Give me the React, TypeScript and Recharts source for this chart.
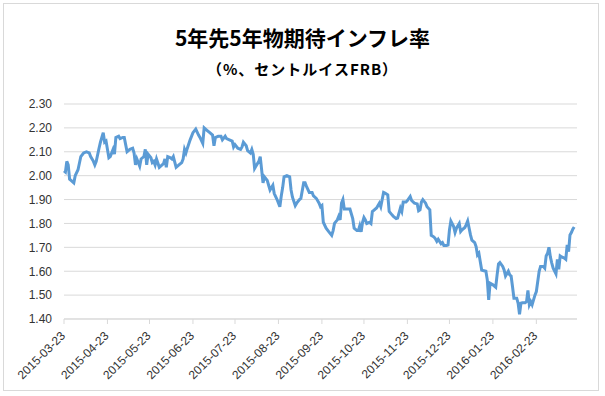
import React from 'react';
import { LineChart, Line, XAxis, YAxis, CartesianGrid } from 'recharts';

// Day offsets from 2015-03-23
const dayOffsets: number[] = [
  0, 1, 2, 3, 4, 5, 7, 8, 10, 12, 14, 16, 18, 19, 21, 22, 23, 25, 26, 28, 29, 30, 32, 33, 35, 36, 37, 39, 40, 42, 43, 44, 45, 47, 49, 50, 51, 52, 54, 55, 57, 58, 59, 60, 62, 63, 64, 65, 66, 68, 70, 71, 72, 73, 74, 76, 77, 78, 80, 82, 84, 85, 86, 87, 88, 90, 92, 94,
  96, 97, 99, 100, 102, 104, 106, 107, 108, 110, 112, 113, 115, 116, 118, 120, 121, 122, 124, 126, 127, 128, 130, 131, 133, 134, 135, 136, 137, 139, 140, 142, 143, 145, 146, 147, 149, 150, 152, 154, 155, 156, 157, 159, 161, 162, 163, 165, 166, 168, 169, 171, 172, 173, 175, 177, 178, 180, 182, 183, 184, 185, 187, 189, 191, 192, 193, 195, 196, 197, 198, 199, 200, 201, 203, 204, 206, 207, 209, 210, 211, 212, 213, 214, 215, 216, 218, 219, 220, 221, 223, 225,
  226, 228, 229, 231, 232, 234, 235, 237, 238, 240, 241, 242, 244, 245, 247, 248, 250, 252, 253, 254, 255, 256, 258, 259, 261, 262, 264, 265, 266, 267, 269, 270, 271, 273, 274, 275, 276, 278, 279, 280, 282, 283, 284, 286, 287, 288, 290, 291, 293, 294, 295, 296, 297, 298, 299, 301, 302, 303, 304, 306, 308, 309, 310, 311, 313, 314, 315, 317, 318, 319, 320, 321, 323, 324, 325, 326, 327, 329, 330, 331, 332, 333, 334, 335, 336, 337, 339, 340, 342, 343, 344, 345, 346, 347, 348, 349, 351, 352, 353, 354, 355, 357, 358, 359, 360, 361, 362, 363, 364,
];

const inflationValues: number[] = [
  2.02, 2.015, 2.06, 2.045, 1.985, 1.98, 1.97, 2.0, 2.025, 2.08, 2.095, 2.1, 2.095, 2.08, 2.06, 2.045, 2.06, 2.115, 2.14, 2.18, 2.14, 2.145, 2.075, 2.08, 2.11, 2.09, 2.16, 2.165, 2.155, 2.16, 2.16, 2.13, 2.1, 2.11, 2.115, 2.095, 2.045, 2.07, 2.04, 2.07, 2.08, 2.11, 2.045, 2.09, 2.075, 2.055, 2.06, 2.045, 2.07, 2.035, 2.045, 2.05, 2.07, 2.035, 2.08, 2.075, 2.07, 2.08, 2.035, 2.045, 2.055, 2.07, 2.11, 2.095, 2.115, 2.15, 2.18, 2.195,
  2.17, 2.16, 2.135, 2.2, 2.19, 2.18, 2.17, 2.125, 2.16, 2.165, 2.165, 2.15, 2.165, 2.155, 2.15, 2.145, 2.12, 2.13, 2.115, 2.11, 2.12, 2.14, 2.125, 2.105, 2.095, 2.11, 2.09, 2.03, 2.04, 2.06, 2.08, 1.97, 1.995, 1.98, 1.96, 1.94, 1.96, 1.925, 1.9, 1.87, 1.915, 1.95, 1.995, 2.0, 1.995, 1.94, 1.91, 1.875, 1.885, 1.9, 1.905, 1.97, 1.97, 1.955, 1.93, 1.93, 1.915, 1.905, 1.885, 1.87, 1.875, 1.805, 1.78, 1.765, 1.75, 1.77, 1.8, 1.815, 1.83, 1.815, 1.885, 1.9, 1.86, 1.86, 1.86, 1.86, 1.82, 1.78, 1.77, 1.77, 1.79, 1.765, 1.805, 1.825, 1.815, 1.8, 1.805, 1.8, 1.85, 1.855, 1.865, 1.885,
  1.87, 1.93, 1.927, 1.92, 1.85, 1.836, 1.83, 1.82, 1.822, 1.864, 1.85, 1.89, 1.89, 1.896, 1.913, 1.896, 1.885, 1.882, 1.853, 1.857, 1.89, 1.9, 1.885, 1.87, 1.857, 1.75, 1.743, 1.736, 1.725, 1.734, 1.715, 1.72, 1.708, 1.708, 1.71, 1.773, 1.81, 1.787, 1.762, 1.78, 1.8, 1.766, 1.773, 1.783, 1.795, 1.81, 1.752, 1.73, 1.72, 1.703, 1.668, 1.675, 1.64, 1.605, 1.603, 1.6, 1.564, 1.48, 1.55, 1.543, 1.533, 1.585, 1.63, 1.636, 1.62, 1.605, 1.58, 1.6, 1.585, 1.58, 1.535, 1.487, 1.487, 1.466, 1.42, 1.466, 1.468, 1.468, 1.473, 1.52, 1.46, 1.473, 1.46, 1.48, 1.5, 1.515, 1.6, 1.62, 1.62, 1.613, 1.664, 1.675, 1.7, 1.66, 1.634, 1.613, 1.589, 1.65, 1.608, 1.664, 1.66, 1.655, 1.65, 1.71, 1.682, 1.752, 1.762, 1.776, 1.785,
];

const xTickDays: number[] = [0, 31, 61, 92, 122, 153, 184, 214, 245, 275, 306, 337];
const xTickLabels: string[] = [
  '2015-03-23', '2015-04-23', '2015-05-23', '2015-06-23', '2015-07-23', '2015-08-23',
  '2015-09-23', '2015-10-23', '2015-11-23', '2015-12-23', '2016-01-23', '2016-02-23',
];
const yTicks: number[] = [1.4, 1.5, 1.6, 1.7, 1.8, 1.9, 2.0, 2.1, 2.2, 2.3];

const title = '5年先5年物期待インフレ率';
const subtitle = '（%、セントルイスFRB）';

const data = dayOffsets.map((d, i) => ({ day: d, value: inflationValues[i] }));

const FONT = '"Liberation Sans", Arial, sans-serif';
const CJK = '"Noto Sans CJK JP", "Noto Sans", sans-serif';
const TEXT = '#333333';

const XTick = (props: any) => {
  const { x, y, payload } = props;
  const idx = xTickDays.indexOf(payload.value);
  const label = idx >= 0 ? xTickLabels[idx] : '';
  const ax = x + 2;
  const ay = y + 12.5;
  return (
    <text
      x={ax}
      y={ay}
      transform={`rotate(-45, ${ax}, ${ay})`}
      textAnchor="end"
      fontFamily={FONT}
      fontSize={12}
      fill={TEXT}
    >
      {label}
    </text>
  );
};

const YTick = (props: any) => {
  const { x, y, payload } = props;
  return (
    <text x={x - 12} y={y} dy={4.3} textAnchor="end" fontFamily={FONT} fontSize={12} fill={TEXT}>
      {Number(payload.value).toFixed(2)}
    </text>
  );
};

export default function App() {
  return (
    <div style={{ position: 'absolute', left: 0, top: 0, width: 605, height: 396, background: '#fff' }}>
      <div
        style={{
          position: 'absolute', left: 3, top: 3, width: 596, height: 388,
          border: '1px solid #d9d9d9', boxSizing: 'border-box',
        }}
      />
      <div
        style={{
          position: 'absolute', left: 0, top: 25, width: 605, textAlign: 'center',
          fontFamily: CJK, fontWeight: 700, fontSize: 21, lineHeight: '24px', color: '#000',
        }}
      >
        {title}
      </div>
      <div
        style={{
          position: 'absolute', left: 0, top: 61, width: 605, textAlign: 'center',
          fontFamily: CJK, fontWeight: 700, fontSize: 15, lineHeight: '16px', letterSpacing: 1, color: '#000',
        }}
      >
        {subtitle}
      </div>
      <div style={{ position: 'absolute', left: 0, top: 0 }}>
        <LineChart width={605} height={396} data={data} margin={{ top: 104, right: 28, bottom: 0, left: 0 }}>
          <CartesianGrid horizontal vertical={false} stroke="#d9d9d9" />
          <XAxis
            dataKey="day"
            type="number"
            domain={[0, 366]}
            ticks={xTickDays}
            interval={0}
            tick={<XTick />}
            tickSize={5}
            tickMargin={0}
            axisLine={{ stroke: '#d9d9d9' }}
            tickLine={{ stroke: '#d9d9d9' }}
            height={77}
          />
          <YAxis
            type="number"
            domain={[1.4, 2.3]}
            ticks={yTicks}
            interval={0}
            width={64}
            tick={<YTick />}
            tickSize={0}
            tickMargin={0}
            axisLine={false}
            tickLine={false}
            allowDataOverflow
          />
          <Line
            type="linear"
            dataKey="value"
            stroke="#5b9bd5"
            strokeWidth={3}
            dot={false}
            isAnimationActive={false}
          />
        </LineChart>
      </div>
    </div>
  );
}
